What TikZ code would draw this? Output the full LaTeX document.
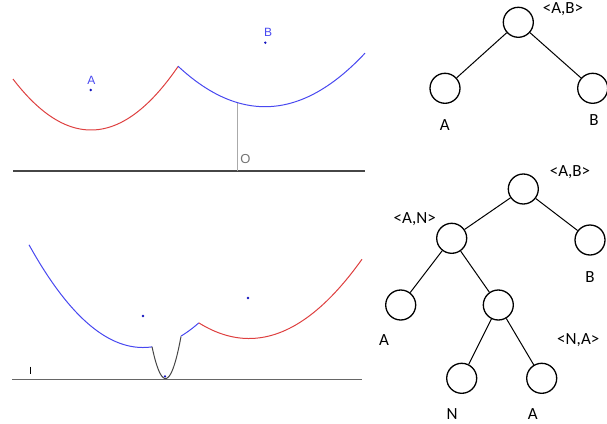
\documentclass[tikz,border=0pt]{standalone}
\usepackage{fontspec}
\setmainfont{Carlito}
\newfontfamily\geofont{Liberation Sans}
\definecolor{cred}{RGB}{222,64,64}
\definecolor{cblue}{RGB}{72,72,240}
\definecolor{cdot}{RGB}{20,20,190}
\definecolor{cgray}{RGB}{170,170,170}
\definecolor{cdark}{RGB}{70,70,70}
\tikzset{
  tnode/.style={circle,draw=black,line width=1.3pt,minimum size=30pt,inner sep=0pt},
  tedge/.style={draw=black,line width=1pt},
  tlabel/.style={inner sep=0pt,font=\fontsize{17}{20}\selectfont},
  glabel/.style={inner sep=0pt,font=\geofont\fontsize{12}{14}\selectfont,text=cblue},
  curve/.style={line width=1pt},
  gdot/.style={circle,fill=cdot,inner sep=0pt,minimum size=2.6pt},
}
\begin{document}
\begin{tikzpicture}[x=1pt,y=-1pt]
\useasboundingbox (0,0) rectangle (607,423);
% ---------- top geometry panel ----------
\coordinate (tl) at (13,171);
\coordinate (tr) at (365,171);
\draw[cdark,line width=1.1pt] (tl) -- (tr);
\coordinate (o) at (237.7,171);
\coordinate (ot) at (237.7,102.7);
\draw[cgray,line width=1.5pt] (o) -- (ot);
\node[inner sep=0pt,text=black!55,font=\geofont\fontsize{13}{15}\selectfont] (olab) at (245.5,158.7) {O};
\draw[cred,curve] plot[domain=13:178,samples=80] (\x,{130-0.00838*(\x-91)^2});
\draw[cblue,curve] plot[domain=178:365,samples=80] (\x,{106.7-0.00536*(\x-265)^2});
\node[gdot] (pa) at (90.7,90) {};
\node[glabel] (la) at (91.3,80.5) {A};
\node[gdot] (pb) at (265.3,42.7) {};
\node[glabel] (lb) at (268,32.8) {B};
% ---------- bottom geometry panel ----------
\coordinate (bl) at (12,379.3);
\coordinate (br) at (362,379.3);
\draw[black!60,line width=1.1pt] (bl) -- (br);
\coordinate (ia) at (30,366.7);
\coordinate (ib) at (30,374);
\draw[black,line width=1pt] (ia) -- (ib);
\draw[cblue,curve] plot[domain=29:152,samples=80] (\x,{347.5-0.0079*(\x-143)^2});
\draw[cdark,curve] plot[domain=152:181,samples=60] (\x,{378.5-0.175*(\x-165.5)^2});
\draw[cblue,curve] plot[domain=181:198.8,samples=20] (\x,{347.5-0.0079*(\x-143)^2});
\draw[cred,curve] plot[domain=198.8:362,samples=80] (\x,{338.5-0.00621*(\x-249)^2});
\node[gdot] (pc) at (143,316) {};
\node[gdot] (pd) at (248,298) {};
\node[gdot] (pe) at (165,376.3) {};
% ---------- top tree ----------
\node[tnode] (r1) at (518.3,22.3) {};
\node[tnode] (a1) at (445,88.3) {};
\node[tnode] (b1) at (592.7,88.3) {};
\draw[tedge] (r1) -- (a1);
\draw[tedge] (r1) -- (b1);
\node[tlabel] (lr1) at (563,9) {<A,B>};
\node[tlabel] (la1) at (444.7,124.7) {A};
\node[tlabel] (lb1) at (594,120) {B};
% ---------- bottom tree ----------
\node[tnode] (r2) at (523.3,189) {};
\node[tnode] (an) at (451.7,238.3) {};
\node[tnode] (b2) at (590,240) {};
\node[tnode] (a2) at (400.7,305) {};
\node[tnode] (m2) at (498.3,305) {};
\node[tnode] (n3) at (461.7,378.3) {};
\node[tnode] (a3) at (541.7,378.3) {};
\draw[tedge] (r2) -- (an);
\draw[tedge] (r2) -- (b2);
\draw[tedge] (an) -- (a2);
\draw[tedge] (an) -- (m2);
\draw[tedge] (m2) -- (n3);
\draw[tedge] (m2) -- (a3);
\node[tlabel] (lr2) at (570,172) {<A,B>};
\node[tlabel] (lan) at (414.7,219.5) {<A,N>};
\node[tlabel] (lb2) at (590,277.3) {B};
\node[tlabel] (la2) at (384,340.5) {A};
\node[tlabel] (lna) at (578.3,340.5) {<N,A>};
\node[tlabel] (ln3) at (452,413.8) {N};
\node[tlabel] (la3) at (532.8,413.8) {A};
\end{tikzpicture}
\end{document}
